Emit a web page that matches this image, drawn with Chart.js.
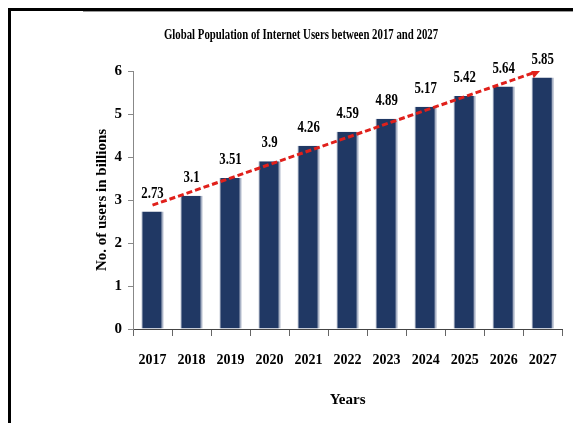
<!DOCTYPE html>
<html>
<head>
<meta charset="utf-8">
<script src="https://cdn.jsdelivr.net/npm/chart.js@4.4.1/dist/chart.umd.min.js"></script>
<style>
  html, body { margin: 0; padding: 0; background: #fff; }
  #wrap { position: absolute; left: 0; top: 0; width: 573px; height: 423px; }
  #frame { position: absolute; left: 8px; top: 8px; width: 570px; height: 420px;
           border-left: 3px solid #000; border-top: 3px solid #000; pointer-events: none; }
  #edge { position: absolute; left: 83px; top: 11px; width: 490px; height: 1px; background: #999; }
</style>
</head>
<body>
<div id="wrap"><canvas id="chart"></canvas></div>
<div id="frame"></div>
<div id="edge"></div>
<script>
const years = ['2017', '2018', '2019', '2020', '2021', '2022', '2023', '2024', '2025', '2026', '2027'];
const users = [2.73, 3.1, 3.51, 3.9, 4.26, 4.59, 4.89, 5.17, 5.42, 5.64, 5.85];
const valueLabels = ['2.73', '3.1', '3.51', '3.9', '4.26', '4.59', '4.89', '5.17', '5.42', '5.64', '5.85'];
// trend arrow: start and end, x as category index
const trendX = [0.0, 9.8];
const trendY = [2.88, 5.97];

const serif = '"Liberation Serif", "Times New Roman", serif';

function condensedText(ctx, text, x, y, size, squeeze) {
    ctx.save();
    ctx.font = 'bold ' + size + 'px ' + serif;
    ctx.fillStyle = '#000';
    ctx.textAlign = 'center';
    ctx.textBaseline = 'middle';
    ctx.translate(x, y);
    ctx.scale(squeeze, 1);
    ctx.fillText(text, 0, 0);
    ctx.restore();
}

const labelPlugin = {
    id: 'labels',
    afterDraw(chart) {
        const ctx = chart.ctx;
        condensedText(ctx, 'Global Population of Internet Users between 2017 and 2027', 301, 35, 15, 0.72);
        const meta = chart.getDatasetMeta(0);
        meta.data.forEach((bar, i) => {
            condensedText(ctx, valueLabels[i], bar.x, bar.y - 18, 16, 0.8);
        });
    }
};

new Chart(document.getElementById('chart'), {
    data: {
        labels: years,
        datasets: [{
            type: 'bar',
            data: users,
            backgroundColor: '#203864',
            borderColor: '#aab3c6',
            borderWidth: { left: 1, right: 2, top: 0, bottom: 0 },
            borderSkipped: false,
            grouped: false,
            barPercentage: 0.57,
            categoryPercentage: 1.0,
            order: 2
        }, {
            type: 'line',
            xAxisID: 'xt',
            data: trendX.map((x, i) => ({ x: x, y: trendY[i] })),
            borderColor: '#e0201b',
            backgroundColor: '#e0201b',
            borderWidth: 3,
            borderDash: [6, 3],
            pointRadius: [0, 6],
            pointStyle: 'triangle',
            pointRotation: 71,
            pointBorderWidth: 0,
            order: 1
        }]
    },
    options: {
        responsive: true,
        maintainAspectRatio: false,
        animation: false,
        layout: { padding: { top: 71, left: 0, right: 7, bottom: 0 } },
        plugins: {
            legend: { display: false },
            tooltip: { enabled: false }
        },
        scales: {
            x: {
                offset: true,
                grid: { offset: true, drawOnChartArea: false, tickLength: 7, color: '#666' },
                border: { color: '#444', width: 1 },
                ticks: { color: '#000', padding: 16, font: { family: serif, size: 14, weight: 'bold' } },
                title: { display: true, text: 'Years', color: '#000',
                         font: { family: serif, size: 15, weight: 'bold' }, padding: { bottom: 14 } },
                afterFit(scale) { scale.height = 94; }
            },
            xt: {
                type: 'linear',
                display: false,
                min: -0.5,
                max: 10.5
            },
            y: {
                min: 0,
                max: 6,
                ticks: { stepSize: 1, color: '#000', padding: 6, font: { family: serif, size: 15, weight: 'bold' } },
                grid: { drawOnChartArea: false, tickLength: 5, color: '#888' },
                border: { color: '#888', width: 1 },
                title: { display: true, text: 'No. of users in billions', color: '#000',
                         font: { family: serif, size: 15, weight: 'bold' }, padding: { top: 93 } },
                afterFit(scale) { scale.width = 133; }
            }
        }
    },
    plugins: [labelPlugin]
});
</script>
</body>
</html>
